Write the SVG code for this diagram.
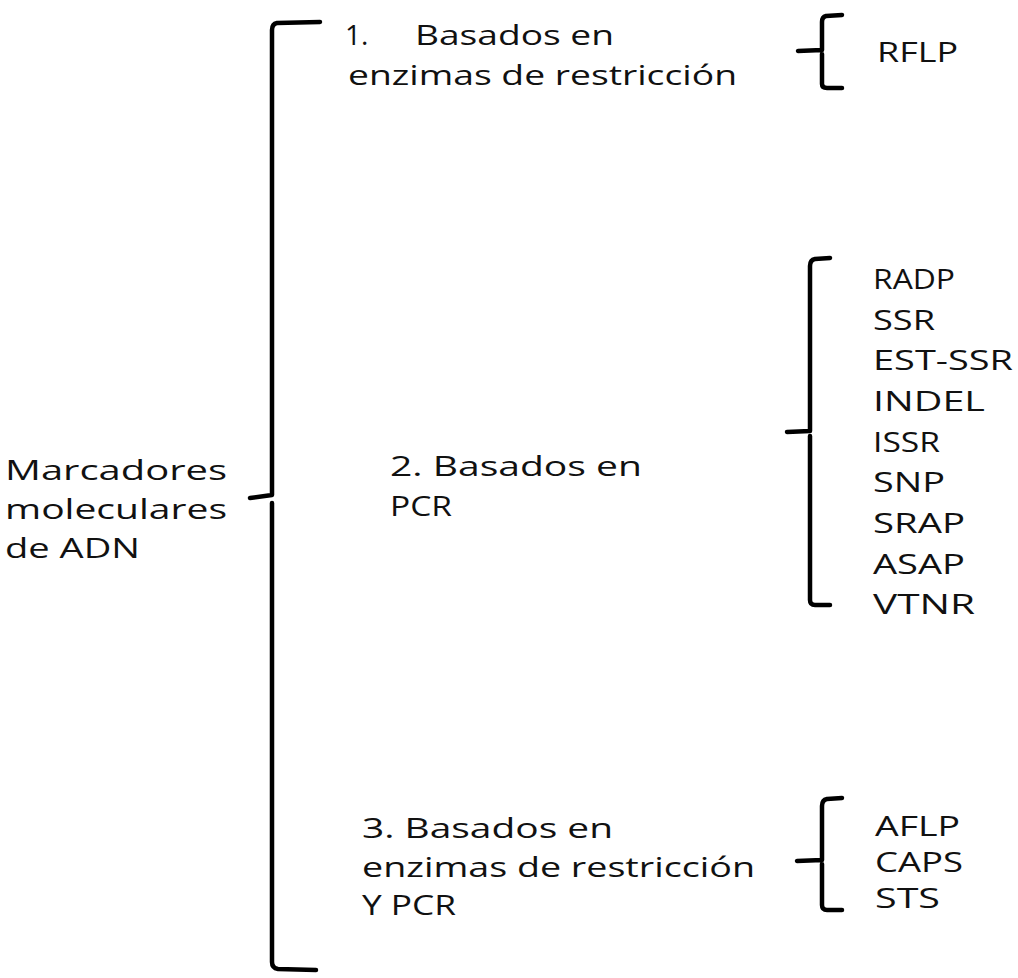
<svg xmlns="http://www.w3.org/2000/svg" width="1018" height="978" viewBox="0 0 1018 978">
<style>
text{font-family:"Open Sans","Liberation Sans",sans-serif;font-size:28px;fill:#111;}
.br{fill:none;stroke:#000;stroke-width:4.5;stroke-linejoin:round;stroke-linecap:round;}
</style>
<rect width="1018" height="978" fill="#fff"/>
<g id="root">
<text x="5" y="480" textLength="222" lengthAdjust="spacingAndGlyphs">Marcadores</text>
<text x="5" y="519" textLength="222" lengthAdjust="spacingAndGlyphs">moleculares</text>
<text x="5" y="558" textLength="135" lengthAdjust="spacingAndGlyphs">de ADN</text>
</g>
<g id="cat1">
<text x="345" y="45">1.</text>
<text x="415" y="45" textLength="199" lengthAdjust="spacingAndGlyphs">Basados en</text>
<text x="348" y="85" textLength="389" lengthAdjust="spacingAndGlyphs">enzimas de restricción</text>
</g>
<g id="cat2">
<text x="390" y="476" textLength="252" lengthAdjust="spacingAndGlyphs">2. Basados en</text>
<text x="390" y="516" textLength="62" lengthAdjust="spacingAndGlyphs">PCR</text>
</g>
<g id="cat3">
<text x="362" y="838" textLength="251" lengthAdjust="spacingAndGlyphs">3. Basados en</text>
<text x="362" y="877" textLength="393" lengthAdjust="spacingAndGlyphs">enzimas de restricción</text>
<text x="362" y="915" textLength="94" lengthAdjust="spacingAndGlyphs">Y PCR</text>
</g>
<g id="list1">
<text x="877" y="62" textLength="81" lengthAdjust="spacingAndGlyphs">RFLP</text>
</g>
<g id="list2">
<text x="873" y="289" textLength="82" lengthAdjust="spacingAndGlyphs">RADP</text>
<text x="873" y="330" textLength="62" lengthAdjust="spacingAndGlyphs">SSR</text>
<text x="873" y="370" textLength="140" lengthAdjust="spacingAndGlyphs">EST-SSR</text>
<text x="873" y="411" textLength="112" lengthAdjust="spacingAndGlyphs">INDEL</text>
<text x="873" y="452" textLength="67" lengthAdjust="spacingAndGlyphs">ISSR</text>
<text x="873" y="492" textLength="72" lengthAdjust="spacingAndGlyphs">SNP</text>
<text x="873" y="533" textLength="92" lengthAdjust="spacingAndGlyphs">SRAP</text>
<text x="873" y="574" textLength="92" lengthAdjust="spacingAndGlyphs">ASAP</text>
<text x="873" y="614" textLength="102" lengthAdjust="spacingAndGlyphs">VTNR</text>
</g>
<g id="list3">
<text x="875" y="836" textLength="85" lengthAdjust="spacingAndGlyphs">AFLP</text>
<text x="875" y="872" textLength="88" lengthAdjust="spacingAndGlyphs">CAPS</text>
<text x="875" y="908" textLength="65" lengthAdjust="spacingAndGlyphs">STS</text>
</g>
<g id="connectors">
<path class="br" d="M320,22 L277,23 Q272,24 272,30 L272,495 L250,498 M272,503 L272,962 Q272,968 278,969 L316,970"/>
<path class="br" d="M842,15 L826,16 Q822,17 822,22 L822,50 L798,51 M822,54 L822,84 Q822,88 827,88 L842,88"/>
<path class="br" d="M830,258 L815,259 Q810,260 810,266 L810,431 L787,432 M810,436 L810,600 Q810,605 815,605 L830,605"/>
<path class="br" d="M842,798 L827,799 Q822,800 822,806 L822,860 L797,861 M822,864 L822,905 Q822,910 827,910 L842,910"/>
</g>
</svg>
